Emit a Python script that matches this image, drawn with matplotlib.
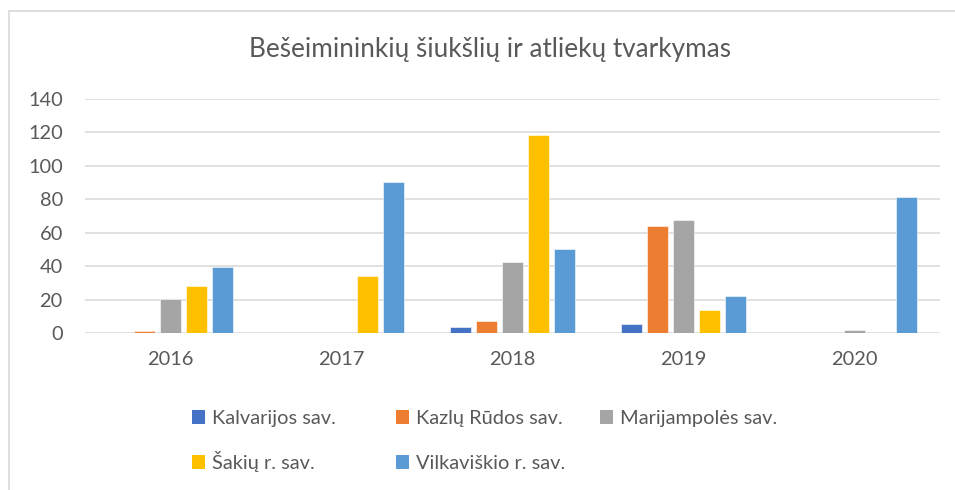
import numpy as np
import matplotlib

matplotlib.use('Agg')
import matplotlib.pyplot as plt
from matplotlib.patches import Rectangle

# ── data ──
years = ['2016', '2017', '2018', '2019', '2020']
kalvarijos = [0, 0, 3.8, 5.2, 0]
kazlu_rudos = [1.2, 0, 7.4, 63.9, 0]
marijampoles = [20.3, 0, 42.5, 67.7, 1.8]
sakiu = [28.3, 34.1, 118.4, 13.8, 0]
vilkaviskio = [39.4, 89.9, 49.9, 21.8, 80.9]

series = [
    ('Kalvarijos sav.', kalvarijos, '#4472C4'),
    ('Kazlų Rūdos sav.', kazlu_rudos, '#ED7D31'),
    ('Marijampolės sav.', marijampoles, '#A5A5A5'),
    ('Šakių r. sav.', sakiu, '#FFC000'),
    ('Vilkaviškio r. sav.', vilkaviskio, '#5B9BD5'),
]

TXT = '#595959'
GRID = '#D9D9D9'
FS = 14.4
plt.rcParams['font.family'] = ['Lato', 'DejaVu Sans']

W, H = 955, 490
fig = plt.figure(figsize=(W / 100, H / 100), dpi=100)
ax = fig.add_axes([85 / W, 1 - 333 / H, (940 - 85) / W, (333 - 98.5) / H])

x = np.arange(len(years))
step, width = 0.152, 0.118
for i, (name, vals, col) in enumerate(series):
    ax.bar(x + (i - 2) * step, vals, width, color=col, label=name,
           edgecolor='white', linewidth=0.4, zorder=3)

ax.set_xlim(-0.5, len(years) - 0.5)
ax.set_ylim(0, 140)
ax.set_yticks(np.arange(0, 141, 20))
ax.set_xticks(x)
ax.set_xticklabels(years)
ax.grid(axis='y', color=GRID, linewidth=1.1, zorder=0)
for s in ax.spines.values():
    s.set_visible(False)
ax.tick_params(axis='both', length=0, labelsize=FS, colors=TXT)
ax.tick_params(axis='y', pad=16)
ax.tick_params(axis='x', pad=13)

fig.text(490 / W, 1 - 50 / H, 'Bešeimininkių šiukšlių ir atliekų tvarkymas',
         ha='center', va='center', fontsize=18.8, color=TXT)

# legend laid out on an Excel-like grid (3 columns, 2 rows)
col_x = [192, 396, 600]
row_base = [424, 469]
for i, (name, _, col) in enumerate(series):
    cx = col_x[i % 3]
    by = row_base[i // 3]
    fig.patches.append(Rectangle((cx / W, 1 - by / H), 13 / W, 14 / H,
                                 transform=fig.transFigure, facecolor=col,
                                 edgecolor='none'))
    fig.text((cx + 20) / W, 1 - by / H, name, ha='left', va='baseline',
             fontsize=FS, color=TXT)

# chart area border
fig.patches.append(Rectangle((8.5 / W, -0.1), 1.2, 1 - 10.5 / H + 0.1,
                             transform=fig.transFigure, fill=False,
                             edgecolor=GRID, linewidth=1.2))

fig.savefig('out.png', dpi=100)
